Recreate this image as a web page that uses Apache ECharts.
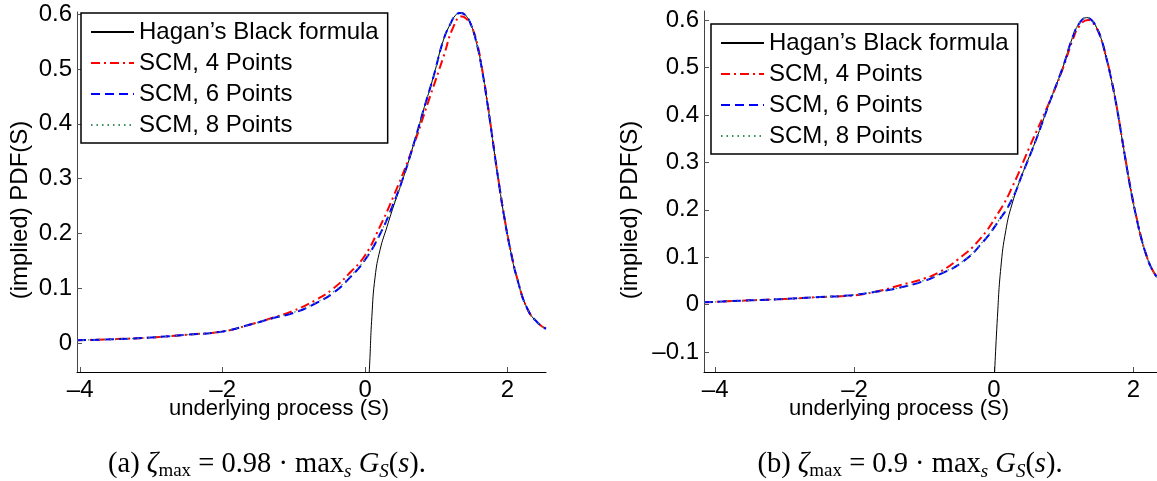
<!DOCTYPE html>
<html>
<head>
<meta charset="utf-8">
<script src="https://cdn.jsdelivr.net/npm/echarts@6/dist/echarts.min.js"></script>
<style>
html,body{margin:0;padding:0;background:#fff;}
#chart{width:1157px;height:481px;}
</style>
</head>
<body>
<div id="chart"></div>
<script>
// ---------- Data ----------
const seriesNames = ["Hagan\u2019s Black formula", "SCM, 4 Points", "SCM, 6 Points", "SCM, 8 Points"];
const xTicks = [-4, -2, 0, 2];
const yTicksA = [0, 0.1, 0.2, 0.3, 0.4, 0.5, 0.6];
const yTicksB = [-0.1, 0, 0.1, 0.2, 0.3, 0.4, 0.5, 0.6];
const xAxisTitle = "underlying process (S)";
const yAxisTitle = "(implied) PDF(S)";

// Panel (a)
const hagA_x = [0.035, 0.06, 0.095, 0.14, 0.21, 0.31, 0.40, 0.54, 0.68, 0.82, 0.96, 1.10, 1.20, 1.27, 1.34, 1.41, 1.48, 1.56, 1.64, 1.72, 1.80, 1.88, 1.96, 2.04, 2.14, 2.28, 2.43, 2.54];
const hagA_y = [-0.10, -0.049, 0.048, 0.120, 0.170, 0.213, 0.250, 0.303, 0.362, 0.425, 0.486, 0.553, 0.583, 0.598, 0.603, 0.598, 0.583, 0.550, 0.500, 0.435, 0.362, 0.290, 0.225, 0.170, 0.115, 0.062, 0.036, 0.026];

const scm4A_x = [-4.045, -3.5, -3.0, -2.5, -2.0, -1.6, -1.3, -1.0, -0.7, -0.45, -0.2, 0.0, 0.2, 0.40, 0.64, 0.91, 1.10, 1.24, 1.36, 1.45, 1.51, 1.58, 1.64, 1.72, 1.80, 1.88, 1.96, 2.04, 2.14, 2.28, 2.43, 2.54];
const scm4A_y = [0.005, 0.007, 0.010, 0.015, 0.021, 0.034, 0.046, 0.059, 0.078, 0.099, 0.130, 0.160, 0.210, 0.268, 0.346, 0.449, 0.522, 0.577, 0.596, 0.588, 0.573, 0.543, 0.502, 0.437, 0.363, 0.291, 0.226, 0.171, 0.116, 0.062, 0.036, 0.026];

const scm6A_x = [-4.045, -3.5, -3.0, -2.5, -2.0, -1.6, -1.3, -1.0, -0.7, -0.45, -0.2, 0.0, 0.2, 0.40, 0.54, 0.68, 0.82, 0.96, 1.10, 1.20, 1.27, 1.34, 1.41, 1.48, 1.56, 1.64, 1.72, 1.80, 1.88, 1.96, 2.04, 2.14, 2.28, 2.43, 2.54];
const scm6A_y = [0.005, 0.007, 0.010, 0.015, 0.021, 0.034, 0.045, 0.055, 0.072, 0.091, 0.121, 0.152, 0.196, 0.255, 0.304, 0.362, 0.425, 0.486, 0.553, 0.583, 0.598, 0.602, 0.598, 0.583, 0.550, 0.500, 0.435, 0.362, 0.290, 0.225, 0.170, 0.115, 0.062, 0.036, 0.026];

const scm8A_x = [-4.045, -3.5, -3.0, -2.5, -2.0, -1.6, -1.3, -1.0, -0.7, -0.45, -0.2, 0.0, 0.2, 0.40, 0.54, 0.68, 0.82, 0.96, 1.10, 1.20, 1.27, 1.34, 1.41, 1.48, 1.56, 1.64, 1.72, 1.80, 1.88, 1.96, 2.04, 2.14, 2.28, 2.43, 2.54];
const scm8A_y = [0.005, 0.007, 0.010, 0.015, 0.021, 0.034, 0.045, 0.056, 0.073, 0.093, 0.123, 0.153, 0.197, 0.255, 0.304, 0.362, 0.425, 0.486, 0.553, 0.583, 0.598, 0.602, 0.598, 0.583, 0.550, 0.500, 0.435, 0.362, 0.290, 0.225, 0.170, 0.115, 0.062, 0.036, 0.026];

// Panel (b)
const hagB_x = [0.005, 0.05, 0.10, 0.17, 0.26, 0.41, 0.60, 0.79, 0.99, 1.13, 1.23, 1.33, 1.40, 1.47, 1.54, 1.61, 1.68, 1.76, 1.83, 1.90, 1.97, 2.05, 2.12, 2.19, 2.26, 2.34];
const hagB_y = [-0.16, -0.027, 0.079, 0.156, 0.212, 0.276, 0.346, 0.423, 0.501, 0.564, 0.594, 0.605, 0.600, 0.585, 0.560, 0.522, 0.478, 0.418, 0.357, 0.295, 0.237, 0.180, 0.137, 0.103, 0.077, 0.058];

const scm4B_x = [-4.16, -3.5, -3.0, -2.5, -2.04, -1.7, -1.37, -1.0, -0.79, -0.51, -0.22, 0.07, 0.26, 0.51, 0.79, 0.99, 1.13, 1.23, 1.35, 1.47, 1.54, 1.61, 1.68, 1.76, 1.83, 1.90, 1.97, 2.05, 2.12, 2.19, 2.26, 2.34];
const scm4B_y = [0.005, 0.009, 0.012, 0.016, 0.019, 0.027, 0.040, 0.055, 0.068, 0.096, 0.135, 0.195, 0.247, 0.332, 0.425, 0.498, 0.558, 0.588, 0.600, 0.583, 0.559, 0.522, 0.479, 0.419, 0.358, 0.296, 0.238, 0.181, 0.137, 0.103, 0.077, 0.058];

const scm6B_x = [-4.16, -3.5, -3.0, -2.5, -2.04, -1.7, -1.37, -1.0, -0.79, -0.46, -0.17, 0.07, 0.26, 0.41, 0.60, 0.79, 0.99, 1.13, 1.23, 1.33, 1.40, 1.47, 1.54, 1.61, 1.68, 1.76, 1.83, 1.90, 1.97, 2.05, 2.12, 2.19, 2.26, 2.34];
const scm6B_y = [0.005, 0.009, 0.012, 0.016, 0.020, 0.027, 0.035, 0.050, 0.063, 0.089, 0.130, 0.177, 0.222, 0.276, 0.346, 0.423, 0.501, 0.564, 0.594, 0.605, 0.600, 0.585, 0.560, 0.522, 0.478, 0.418, 0.357, 0.295, 0.237, 0.180, 0.137, 0.103, 0.077, 0.058];

const scm8B_x = [-4.16, -3.5, -3.0, -2.5, -2.04, -1.7, -1.37, -1.0, -0.79, -0.46, -0.17, 0.07, 0.26, 0.41, 0.60, 0.79, 0.99, 1.13, 1.23, 1.33, 1.40, 1.47, 1.54, 1.61, 1.68, 1.76, 1.83, 1.90, 1.97, 2.05, 2.12, 2.19, 2.26, 2.34];
const scm8B_y = [0.005, 0.009, 0.012, 0.016, 0.020, 0.027, 0.035, 0.051, 0.064, 0.090, 0.131, 0.178, 0.223, 0.276, 0.346, 0.423, 0.501, 0.564, 0.594, 0.604, 0.600, 0.585, 0.560, 0.522, 0.478, 0.418, 0.357, 0.295, 0.237, 0.180, 0.137, 0.103, 0.077, 0.058];

// ---------- Chart ----------
const SANS = "'Liberation Sans', Arial, Helvetica, sans-serif";
const SERIF = "'Liberation Serif', 'DejaVu Serif', serif";
const pairs = (xs, ys) => xs.map((x, i) => [x, ys[i]]);
const fmtNum = v => {
  const s = (Math.abs(v) < 1e-9) ? '0' : (Number.isInteger(v) ? String(v) : v.toFixed(1));
  return s.replace('-', '\u2013');
};

const styles = [
  {color: '#000000', width: 1, type: 'solid'},
  {color: '#ff0000', width: 2, type: [9, 4, 2, 4]},
  {color: '#0000ff', width: 2, type: [9, 5]},
  {color: '#3d8f5a', width: 1.2, type: [1.5, 4]}
];

function mkSeries(name, idx, grid, data) {
  const st = styles[idx];
  return {
    name: name, type: 'line', xAxisIndex: grid, yAxisIndex: grid,
    data: data, showSymbol: false, symbol: 'none',
    smooth: 0.5, clip: true,
    lineStyle: {color: st.color, width: st.width, type: st.type},
    itemStyle: {color: st.color},
    emphasis: {disabled: true}, z: 2 + idx
  };
}

function mkXAxis(grid, min, max) {
  return {
    type: 'value', gridIndex: grid, min: min, max: max,
    axisLine: {show: true, onZero: false, lineStyle: {color: '#000', width: 1}},
    axisTick: {show: true, inside: true, length: 5, customValues: xTicks, lineStyle: {color: '#555', width: 1}},
    axisLabel: {customValues: xTicks, formatter: fmtNum, fontSize: 24, fontFamily: SANS, color: '#000', margin: 6},
    splitLine: {show: false}
  };
}
function mkYAxis(grid, min, max, ticks) {
  return {
    type: 'value', gridIndex: grid, min: min, max: max,
    axisLine: {show: true, onZero: false, lineStyle: {color: '#444', width: 1}},
    axisTick: {show: true, inside: true, length: 5, customValues: ticks, lineStyle: {color: '#555', width: 1}},
    axisLabel: {customValues: ticks, formatter: fmtNum, fontSize: 24, fontFamily: SANS, color: '#000', margin: 5},
    splitLine: {show: false}
  };
}
function mkLegend(left, top) {
  return {
    orient: 'vertical', left: left, top: top,
    data: seriesNames, selectedMode: false,
    itemWidth: 43, itemHeight: 20, itemGap: 7,
    padding: [7, 9, 6, 9],
    itemStyle: {opacity: 0},
    borderColor: '#000', borderWidth: 1.5, borderRadius: 0, backgroundColor: '#fff',
    textStyle: {fontSize: 24, fontFamily: SANS, color: '#000'}
  };
}

const capRich = {
  n: {fontSize: 28.5, fontFamily: SERIF, color: '#000'},
  i: {fontSize: 28.5, fontFamily: SERIF, fontStyle: 'italic', color: '#000'},
  sub: {fontSize: 19, fontFamily: SERIF, color: '#000', padding: [13, 0, 0, 0]},
  subi: {fontSize: 19, fontFamily: SERIF, fontStyle: 'italic', color: '#000', padding: [13, 0, 0, 0]}
};
function caption(label, factor) {
  return '{n|(' + label + ') }{i|\u03b6}{sub|max}{n| = ' + factor + ' \u00b7 max}{subi|s}{n| }{i|G}{subi|S}{n|(}{i|s}{n|).}';
}

const option = {
  backgroundColor: '#fff',
  animation: false,
  grid: [
    {left: 77, top: 12, width: 469, height: 360, containLabel: false},
    {left: 704, top: 11, width: 453, height: 361, containLabel: false}
  ],
  xAxis: [mkXAxis(0, -4.045, 2.54), mkXAxis(1, -4.16, 2.34)],
  yAxis: [mkYAxis(0, -0.053, 0.604, yTicksA), mkYAxis(1, -0.142, 0.619, yTicksB)],
  legend: [mkLegend(81, 13), mkLegend(711, 24)],
  series: [
    mkSeries(seriesNames[0], 0, 0, pairs(hagA_x, hagA_y)),
    mkSeries(seriesNames[1], 1, 0, pairs(scm4A_x, scm4A_y)),
    mkSeries(seriesNames[2], 2, 0, pairs(scm6A_x, scm6A_y)),
    mkSeries(seriesNames[3], 3, 0, pairs(scm8A_x, scm8A_y)),
    mkSeries(seriesNames[0], 0, 1, pairs(hagB_x, hagB_y)),
    mkSeries(seriesNames[1], 1, 1, pairs(scm4B_x, scm4B_y)),
    mkSeries(seriesNames[2], 2, 1, pairs(scm6B_x, scm6B_y)),
    mkSeries(seriesNames[3], 3, 1, pairs(scm8B_x, scm8B_y))
  ],
  graphic: [
    {type: 'text', x: 279, y: 409, style: {text: xAxisTitle, fontSize: 22, fontFamily: SANS, fill: '#000', align: 'center', verticalAlign: 'middle'}},
    {type: 'text', x: 899, y: 409, style: {text: xAxisTitle, fontSize: 22, fontFamily: SANS, fill: '#000', align: 'center', verticalAlign: 'middle'}},
    {type: 'text', x: 20, y: 210, rotation: Math.PI / 2, style: {text: yAxisTitle, fontSize: 24, fontFamily: SANS, fill: '#000', align: 'center', verticalAlign: 'middle'}},
    {type: 'text', x: 630, y: 210, rotation: Math.PI / 2, style: {text: yAxisTitle, fontSize: 24, fontFamily: SANS, fill: '#000', align: 'center', verticalAlign: 'middle'}},
    {type: 'text', x: 267, y: 465, style: {text: caption('a', '0.98'), rich: capRich, align: 'center', verticalAlign: 'middle'}},
    {type: 'text', x: 910, y: 465, style: {text: caption('b', '0.9'), rich: capRich, align: 'center', verticalAlign: 'middle'}}
  ]
};

const chart = echarts.init(document.getElementById('chart'), null, {renderer: 'canvas'});
chart.setOption(option);
</script>
</body>
</html>
